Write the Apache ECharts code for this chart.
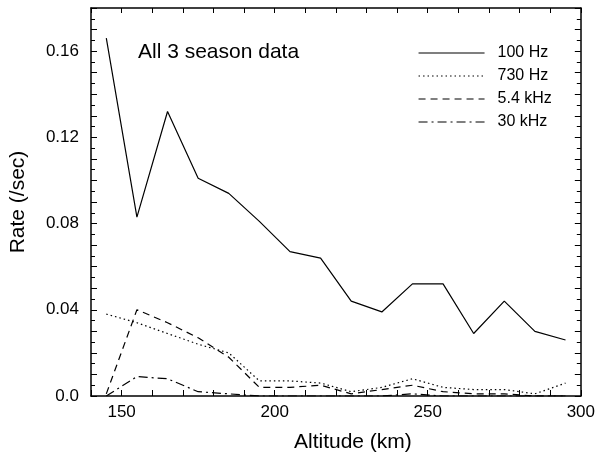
<!DOCTYPE html>
<html>
<head>
<meta charset="utf-8">
<script src="https://cdn.jsdelivr.net/npm/echarts@6/dist/echarts.min.js"></script>
<style>
  html, body { margin: 0; padding: 0; background: #fff; }
  #chart { width: 598px; height: 458px; }
</style>
</head>
<body>
<div id="chart"></div>
<script>
// altitude bins (km)
var altitudes = [145, 155, 165, 175, 185, 195, 205, 215, 225, 235, 245, 255, 265, 275, 285, 295];
// rates (/sec)
var rate100Hz = [0.166, 0.083, 0.132, 0.101, 0.094, 0.081, 0.067, 0.064, 0.044, 0.039, 0.052, 0.052, 0.029, 0.044, 0.030, 0.026];
var rate730Hz = [0.038, 0.034, 0.029, 0.024, 0.020, 0.007, 0.007, 0.006, 0.002, 0.004, 0.008, 0.004, 0.003, 0.003, 0.001, 0.006];
var rate5k4Hz = [0.001, 0.040, 0.034, 0.027, 0.018, 0.004, 0.004, 0.005, 0.001, 0.003, 0.005, 0.002, 0.001, 0.001, 0.000, 0.000];
var rate30kHz = [0.000, 0.009, 0.008, 0.002, 0.001, 0.000, 0.000, 0.000, 0.000, 0.000, 0.001, 0.000, 0.000, 0.000, 0.000, 0.000];
var seriesNames = ['100 Hz', '730 Hz', '5.4 kHz', '30 kHz'];

function pairs(ys) {
  return altitudes.map(function (x, i) { return [x, ys[i]]; });
}

var chart = echarts.init(document.getElementById('chart'));
var font = 'Liberation Sans, Arial, Helvetica, sans-serif';
var axisLine = { show: true, onZero: false, lineStyle: { color: '#000', width: 1.5 } };

function mkLine(name, ys, type) {
  return {
    name: name,
    type: 'line',
    data: pairs(ys),
    symbol: 'none',
    animation: false,
    itemStyle: { color: '#000' },
    lineStyle: { color: '#000', width: 1.2, type: type }
  };
}

chart.setOption({
  backgroundColor: '#fff',
  textStyle: { fontFamily: font, color: '#000' },
  title: {
    text: 'All 3 season data',
    left: 133,
    top: 37,
    textStyle: { fontSize: 21, fontWeight: 'normal', color: '#000', fontFamily: font }
  },
  legend: {
    orient: 'vertical',
    left: 418,
    top: 45,
    padding: 0,
    itemWidth: 66,
    itemHeight: 14,
    itemGap: 7,
    data: seriesNames,
    itemStyle: { opacity: 0 },
    lineStyle: { width: 1.1 },
    textStyle: { fontSize: 16, color: '#000', fontFamily: font, padding: [0, 0, 0, 8] }
  },
  grid: { left: 91, right: 17, top: 8, bottom: 61 },
  xAxis: [{
    type: 'value',
    min: 140, max: 300, interval: 10,
    name: 'Altitude (km)',
    nameLocation: 'middle',
    nameGap: 36,
    nameTextStyle: { fontSize: 21, color: '#000', padding: [0, 0, 0, 34] },
    axisLine: axisLine,
    axisTick: { inside: true, length: 6, lineStyle: { color: '#000' } },
    axisLabel: {
      fontSize: 17, color: '#000', margin: 8,
      formatter: function (v) { return v % 50 === 0 ? String(v) : ''; }
    },
    splitLine: { show: false }
  }, {
    type: 'value', position: 'top',
    min: 140, max: 300, interval: 10,
    axisLine: axisLine,
    axisTick: { inside: true, length: 5, lineStyle: { color: '#000' } },
    axisLabel: { show: false },
    splitLine: { show: false }
  }],
  yAxis: [{
    type: 'value',
    min: 0, max: 0.18, interval: 0.01,
    name: 'Rate (/sec)',
    nameLocation: 'middle',
    nameGap: 62,
    nameTextStyle: { fontSize: 21, color: '#000' },
    axisLine: axisLine,
    axisTick: { inside: true, length: 6, lineStyle: { color: '#000' } },
    minorTick: { show: true, splitNumber: 2, length: 4, lineStyle: { color: '#000' } },
    axisLabel: {
      fontSize: 17, color: '#000', margin: 12,
      formatter: function (v) {
        var k = Math.round(v * 100);
        if (k % 4 !== 0) return '';
        return k === 0 ? '0.0' : (k / 100).toFixed(2);
      }
    },
    splitLine: { show: false }
  }, {
    type: 'value', position: 'right',
    min: 0, max: 0.18, interval: 0.01,
    axisLine: axisLine,
    axisTick: { inside: true, length: 6, lineStyle: { color: '#000' } },
    minorTick: { show: true, splitNumber: 2, length: 4, lineStyle: { color: '#000' } },
    axisLabel: { show: false },
    splitLine: { show: false }
  }],
  series: [
    mkLine(seriesNames[0], rate100Hz, 'solid'),
    mkLine(seriesNames[1], rate730Hz, [1.5, 3]),
    mkLine(seriesNames[2], rate5k4Hz, [7, 5]),
    mkLine(seriesNames[3], rate30kHz, [9, 4, 2, 4])
  ]
});
</script>
</body>
</html>
